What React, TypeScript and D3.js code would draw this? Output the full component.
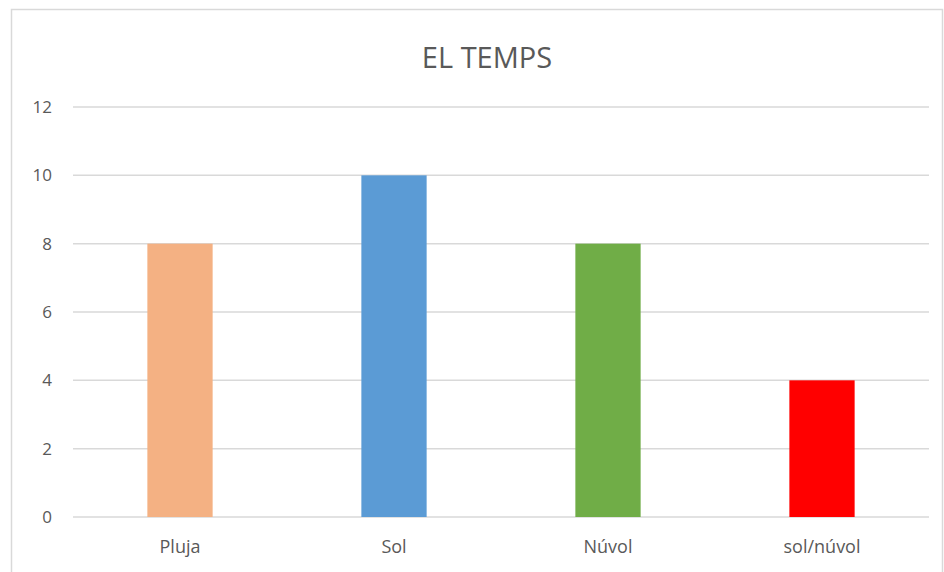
import * as d3 from "d3";

const categories = ["Pluja", "Sol", "Núvol", "sol/núvol"];
const values = [8, 10, 8, 4];
const barColors = ["#F4B183", "#5B9BD5", "#70AD47", "#FF0000"];
const yTicks = [0, 2, 4, 6, 8, 10, 12];
const title = "EL TEMPS";

const W = 944;
const H = 572;
const FONT = "'Open Sans', 'Liberation Sans', sans-serif";

export default function App() {
  const plot = { left: 73, right: 929, top: 107, bottom: 517 };

  const x = d3
    .scaleBand<string>()
    .domain(categories)
    .range([plot.left, plot.right])
    .paddingInner(0.695)
    .paddingOuter(0.3475);

  const y = d3.scaleLinear().domain([0, 12]).range([plot.bottom, plot.top]);

  return (
    <svg
      width={W}
      height={H}
      style={{ position: "absolute", left: 0, top: 0, background: "#fff" }}
      fontFamily={FONT}
    >
      {/* chart frame */}
      <rect x={11.5} y={9.5} width={931} height={600} fill="#fff" stroke="#d9d9d9" strokeWidth={1.5} />

      <text x={487} y={68} textAnchor="middle" fontSize={29} fill="#595959">
        {title}
      </text>

      {/* gridlines + y tick labels */}
      {yTicks.map((t) => (
        <g key={t}>
          <line x1={plot.left} x2={plot.right} y1={y(t)} y2={y(t)} stroke="#d9d9d9" strokeWidth={1.5} />
          <text x={52} y={y(t)} dy="0.35em" textAnchor="end" fontSize={17} fill="#595959">
            {t}
          </text>
        </g>
      ))}

      {/* bars */}
      {categories.map((c, i) => (
        <rect
          key={c}
          x={x(c)}
          y={y(values[i])}
          width={x.bandwidth()}
          height={y(0) - y(values[i])}
          fill={barColors[i]}
        />
      ))}

      {/* x labels */}
      {categories.map((c) => (
        <text
          key={c}
          x={(x(c) ?? 0) + x.bandwidth() / 2}
          y={553}
          textAnchor="middle"
          fontSize={18}
          fill="#595959"
        >
          {c}
        </text>
      ))}
    </svg>
  );
}
